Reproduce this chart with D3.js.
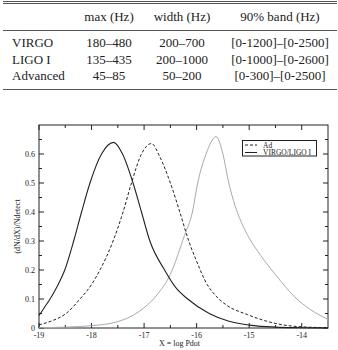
<!DOCTYPE html>
<html lang="en">
<head>
<meta charset="UTF-8">
<title>dN/dX</title>
<script src="https://d3js.org/d3.v7.min.js"></script>
<style>
  body { margin: 0; background: #fff; }
  svg text { font-family: "Liberation Serif", "DejaVu Serif", serif; fill: #222; }
</style>
</head>
<body>
<div id="chart"></div>
<script>
// table
var tableHead = ["", "max (Hz)", "width (Hz)", "90% band (Hz)"];
var tableRows = [
    ["VIRGO", "180\u2013480", "200\u2013700", "[0-1200]\u2013[0-2500]"],
    ["LIGO I", "135\u2013435", "200\u20131000", "[0-1000]\u2013[0-2600]"],
    ["Advanced", "45\u201385", "50\u2013200", "[0-300]\u2013[0-2500]"]
];

// curves
var virgoX = [-19, -18.9, -18.79, -18.65, -18.51, -18.34, -18.19, -18.03, -17.81, -17.58, -17.41, -17.21, -17.05, -16.89, -16.61, -16.4, -16.17, -15.76, -15.4, -15, -14.5, -14, -13.5];
var virgoY = [0.043, 0.07, 0.1, 0.145, 0.2, 0.3, 0.4, 0.5, 0.6, 0.64, 0.6, 0.5, 0.4, 0.3, 0.2, 0.14, 0.1, 0.05, 0.024, 0.01, 0.003, 0.001, 0.0];

var adX = [-19, -18.75, -18.5, -18.22, -18, -17.84, -17.59, -17.4, -17.24, -17.05, -16.86, -16.7, -16.5, -16.32, -16.15, -16, -15.8, -15.63, -15.44, -15.03, -14.53, -14.15, -13.5];
var adY = [0.011, 0.025, 0.048, 0.1, 0.15, 0.2, 0.3, 0.4, 0.5, 0.6, 0.636, 0.59, 0.5, 0.4, 0.3, 0.23, 0.15, 0.11, 0.08, 0.046, 0.017, 0.006, 0.001];

var dotX = [-19, -18.5, -18, -17.5, -17.2, -17, -16.75, -16.5, -16.23, -16.08, -15.98, -15.82, -15.63, -15.5, -15.4, -15.3, -15.15, -15, -14.78, -14.46, -14.15, -13.83, -13.5];
var dotY = [0.001, 0.003, 0.008, 0.022, 0.045, 0.07, 0.115, 0.185, 0.32, 0.4, 0.5, 0.6, 0.66, 0.6, 0.51, 0.44, 0.365, 0.31, 0.25, 0.175, 0.11, 0.063, 0.03];

var xTicks = [-19, -18, -17, -16, -15, -14];
var yTicks = [0, 0.1, 0.2, 0.3, 0.4, 0.5, 0.6];

var W = 338, H = 350;
var svg = d3.select("#chart").append("svg")
    .attr("width", W).attr("height", H);

// ---- table ----
var colX = [12, 109, 182, 280];
var rule = function(y) {
    svg.append("line").attr("x1", 3).attr("x2", 337)
        .attr("y1", y).attr("y2", y)
        .attr("stroke", "#555").attr("stroke-width", 1);
};
rule(1.5); rule(3.5); rule(30.5); rule(89.5);

svg.selectAll(".th").data(tableHead).enter().append("text")
    .attr("x", function(d, i) { return colX[i]; })
    .attr("y", 21)
    .attr("text-anchor", "middle")
    .style("font-size", "13px")
    .text(function(d) { return d; });

tableRows.forEach(function(row, r) {
    svg.selectAll(".r" + r).data(row).enter().append("text")
        .attr("x", function(d, i) { return colX[i]; })
        .attr("y", 47 + r * 16.5)
        .attr("text-anchor", function(d, i) { return i == 0 ? "start" : "middle"; })
        .style("font-size", "13px")
        .text(function(d) { return d; });
});

// ---- plot ----
var margin = {left: 39, top: 125, right: 10, bottom: 22};
var pw = W - margin.left - margin.right;
var ph = H - margin.top - margin.bottom;

var x = d3.scaleLinear().domain([-19, -13.5]).range([0, pw]);
var y = d3.scaleLinear().domain([0, 0.7]).range([ph, 0]);

var g = svg.append("g")
    .attr("transform", `translate(${margin.left},${margin.top})`);

// ticks, all inward
var minorX = d3.range(-18.5, -13.5, 1);
var minorY = d3.range(0.05, 0.7, 0.1);
var tick = function(x1, y1, x2, y2) {
    g.append("line").attr("x1", x1).attr("y1", y1).attr("x2", x2).attr("y2", y2)
        .attr("stroke", "#222").attr("stroke-width", 1);
};
xTicks.forEach(function(t) {
    tick(x(t), ph, x(t), ph - 5);
    tick(x(t), 0, x(t), 5);
});
minorX.forEach(function(t) {
    tick(x(t), ph, x(t), ph - 3);
    tick(x(t), 0, x(t), 3);
});
yTicks.forEach(function(t) {
    tick(0, y(t), 5, y(t));
    tick(pw, y(t), pw - 5, y(t));
});
minorY.forEach(function(t) {
    tick(0, y(t), 3, y(t));
    tick(pw, y(t), pw - 3, y(t));
});

g.append("rect").attr("width", pw).attr("height", ph)
    .attr("fill", "none").attr("stroke", "#222").attr("stroke-width", 1);

// tick labels
g.selectAll(".xl").data(xTicks).enter().append("text")
    .attr("x", function(d) { return x(d); })
    .attr("y", ph + 9.5)
    .attr("text-anchor", "middle")
    .style("font-size", "8px")
    .text(function(d) { return d; });
g.selectAll(".yl").data(yTicks).enter().append("text")
    .attr("x", -4)
    .attr("y", function(d) { return y(d) + 2.5; })
    .attr("text-anchor", "end")
    .style("font-size", "8px")
    .text(function(d) { return d; });

g.append("text")
    .attr("x", pw / 2 - 4).attr("y", ph + 18)
    .attr("text-anchor", "middle")
    .style("font-size", "8px")
    .text("X = log Pdot");
g.append("text")
    .attr("transform", `translate(-19,${ph / 2}) rotate(-90)`)
    .attr("text-anchor", "middle")
    .style("font-size", "8px")
    .text("(dN/dX)/Ndetect");

// curves
var line = d3.line()
    .x(function(d) { return x(d[0]); })
    .y(function(d) { return y(d[1]); })
    .curve(d3.curveMonotoneX);

var zip = function(a, b) { return a.map(function(v, i) { return [v, b[i]]; }); };

g.append("path").datum(zip(dotX, dotY)).attr("d", line)
    .attr("fill", "none").attr("stroke", "#aaa").attr("stroke-width", 1);
g.append("path").datum(zip(adX, adY)).attr("d", line)
    .attr("fill", "none").attr("stroke", "#222").attr("stroke-width", 1)
    .attr("stroke-dasharray", "3,2");
g.append("path").datum(zip(virgoX, virgoY)).attr("d", line)
    .attr("fill", "none").attr("stroke", "#222").attr("stroke-width", 1.1);

// legend
var lg = svg.append("g");
lg.append("rect").attr("x", 242.5).attr("y", 140.5).attr("width", 74).attr("height", 15.5)
    .attr("fill", "#fff").attr("stroke", "#222").attr("stroke-width", 1);
var legend = [["Ad", "3,2"], ["VIRGO/LIGO I", null]];
legend.forEach(function(l, i) {
    var ly = 145 + i * 7.5;
    lg.append("line").attr("x1", 245).attr("x2", 257).attr("y1", ly).attr("y2", ly)
        .attr("stroke", "#222").attr("stroke-width", 1)
        .attr("stroke-dasharray", l[1]);
    lg.append("text").attr("x", 263).attr("y", ly + 2.5)
        .style("font-size", "7.5px").text(l[0]);
});
</script>
</body>
</html>
